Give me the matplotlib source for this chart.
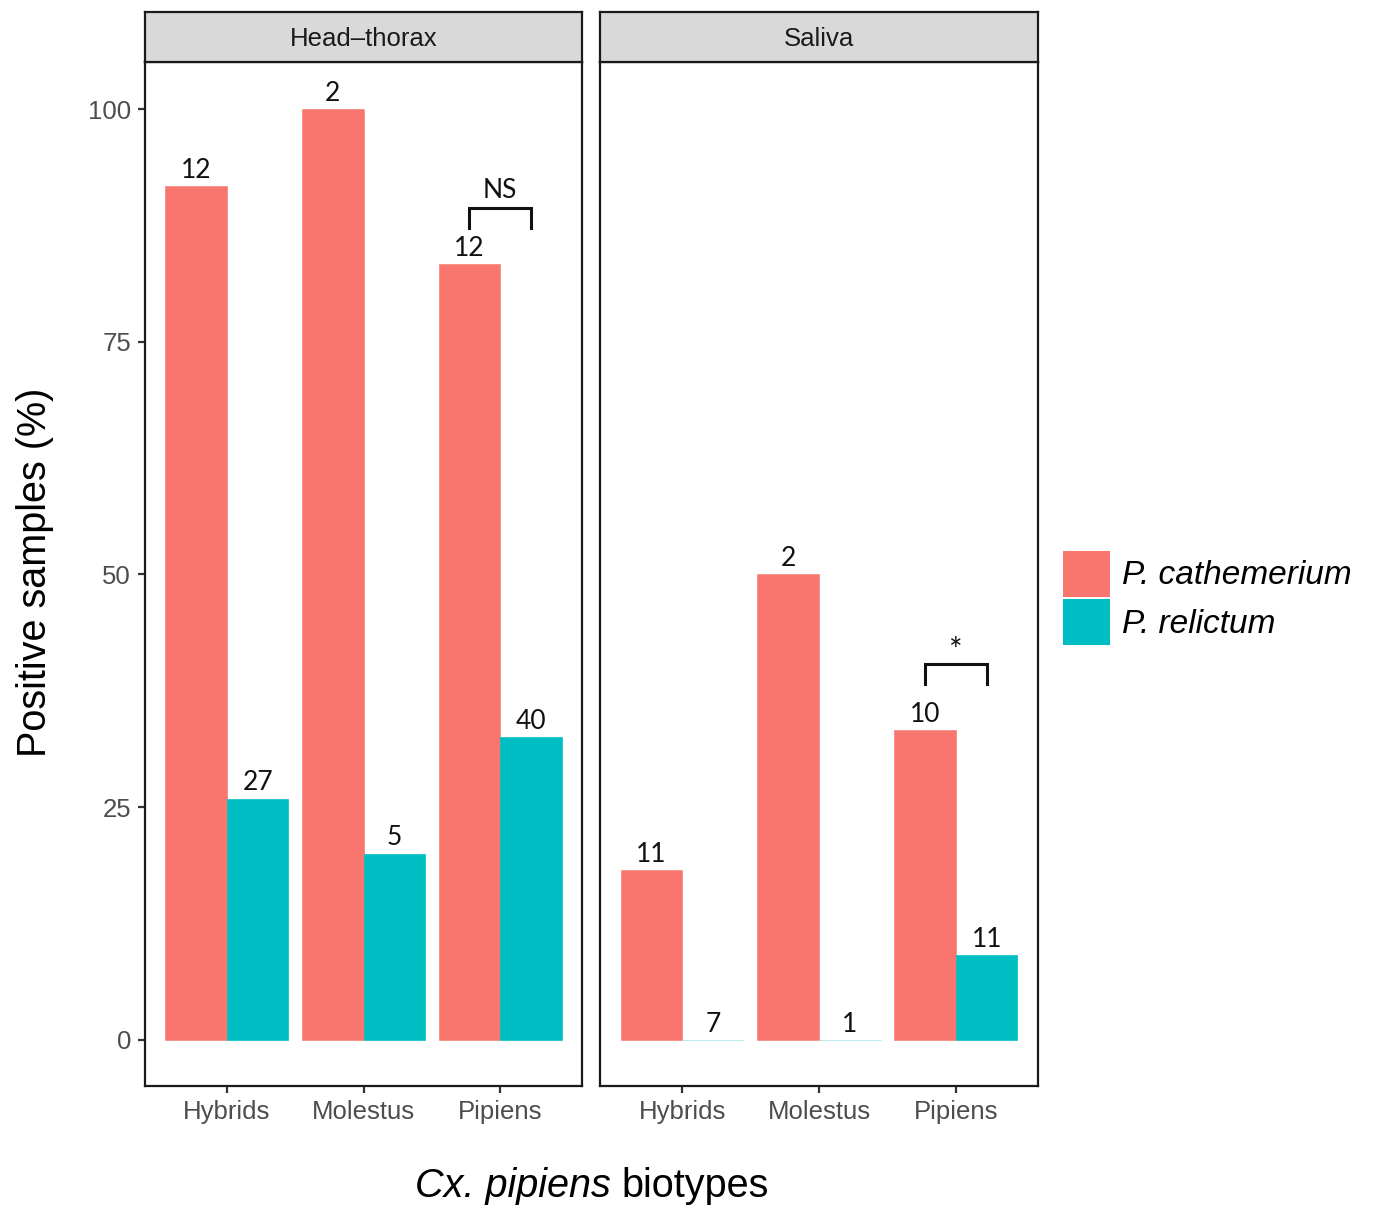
import matplotlib
matplotlib.use('Agg')
import matplotlib.pyplot as plt
from matplotlib.patches import Patch
import numpy as np

plt.rcParams['font.family'] = ['Liberation Sans', 'DejaVu Sans']

# ---------------- data ----------------
panels = ['Head–thorax', 'Saliva']
biotypes = ['Hybrids', 'Molestus', 'Pipiens']
species = ['P. cathemerium', 'P. relictum']
cath_pct = {'Head–thorax': [91.7, 100.0, 83.3], 'Saliva': [18.2, 50.0, 33.3]}
rel_pct = {'Head–thorax': [25.9, 20.0, 32.5], 'Saliva': [0.0, 0.0, 9.1]}
cath_n = {'Head–thorax': [12, 2, 12], 'Saliva': [11, 2, 10]}
rel_n = {'Head–thorax': [27, 5, 40], 'Saliva': [7, 1, 11]}
sig_label = {'Head–thorax': 'NS', 'Saliva': '*'}
sig_group = 'Pipiens'
yticks = [0, 25, 50, 75, 100]
xlabel_italic = 'Cx. pipiens'
xlabel_rest = 'biotypes'
ylabel = 'Positive samples (%)'

# ---------------- style ----------------
W, H = 1377, 1208
col_cath = '#F8766D'
col_rel = '#00BFC4'
col_zero = '#9FE2E4'
edge = '#1a1a1a'
tick_col = '#4D4D4D'
bracket_off = {'Head–thorax': (3.9, 6.1), 'Saliva': (4.9, 7.1)}
sig_size = {'Head–thorax': 19, 'Saliva': 23}
sig_pad = {'Head–thorax': 7, 'Saliva': 2}

fig = plt.figure(figsize=(W / 100, H / 100), dpi=100)

def fx(px):
    return px / W

def fy(py):
    return 1 - py / H

panel_x = [(145, 582), (600, 1038)]
ax_top, ax_bot = 62, 1086
strip_top = 12

bw = 0.45
x = np.arange(1, len(biotypes) + 1)

for i, p in enumerate(panels):
    x0, x1 = panel_x[i]
    ax = fig.add_axes([fx(x0), fy(ax_bot), fx(x1 - x0), (ax_bot - ax_top) / H])
    b1 = ax.bar(x - bw / 2, cath_pct[p], width=bw, color=col_cath,
                edgecolor=col_cath, linewidth=0.4, zorder=2)
    rel_edges = [col_rel if v > 0 else col_zero for v in rel_pct[p]]
    b2 = ax.bar(x + bw / 2, rel_pct[p], width=bw, color=col_rel,
                edgecolor=rel_edges, linewidth=0.5, zorder=2)
    for bars, ns in ((b1, cath_n[p]), (b2, rel_n[p])):
        for b, n in zip(bars, ns):
            ax.annotate(str(n), (b.get_x() + b.get_width() / 2, b.get_height()),
                        xytext=(0, 6), textcoords='offset points',
                        ha='center', va='baseline', fontsize=19,
                        family=['Lato', 'DejaVu Sans'], color='#111111')
    # significance bracket
    gi = biotypes.index(sig_group)
    top = max(cath_pct[p][gi], rel_pct[p][gi])
    lo, hi = top + bracket_off[p][0], top + bracket_off[p][1]
    xa, xb = x[gi] - bw / 2, x[gi] + bw / 2
    ax.plot([xa, xa, xb, xb], [lo, hi, hi, lo], color='#111111', lw=2.2,
            solid_joinstyle='miter', zorder=3)
    ax.annotate(sig_label[p], ((xa + xb) / 2, hi), xytext=(0, sig_pad[p]),
                textcoords='offset points', ha='center', va='baseline',
                fontsize=sig_size[p], family=['Lato', 'DejaVu Sans'],
                color='#111111')

    ax.set_xlim(0.4, 3.6)
    ax.set_ylim(-4.95, 105.05)
    ax.set_xticks(x)
    ax.set_xticklabels(biotypes, fontsize=18.5, color=tick_col)
    ax.set_yticks(yticks)
    if i == 0:
        ax.set_yticklabels([str(t) for t in yticks], fontsize=18.5, color=tick_col)
    else:
        ax.tick_params(axis='y', left=False, labelleft=False)
    ax.tick_params(axis='both', direction='out', length=5, width=1.6,
                   color='#333333', pad=5)
    for s in ax.spines.values():
        s.set_color(edge)
        s.set_linewidth(1.6)

    # strip
    sax = fig.add_axes([fx(x0), fy(ax_top), fx(x1 - x0), (ax_top - strip_top) / H])
    sax.set_facecolor('#D9D9D9')
    sax.set_xticks([])
    sax.set_yticks([])
    for s in sax.spines.values():
        s.set_color(edge)
        s.set_linewidth(1.6)
    sax.text(0.5, 0.46, p, ha='center', va='center', fontsize=18.5,
             color='#1a1a1a', transform=sax.transAxes)

# axis titles
fig.text(fx(35), fy(572), ylabel, rotation=90, ha='center',
         va='center', fontsize=28.5, color='black')

t1 = fig.text(0, fy(1186), xlabel_italic + ' ', ha='left', va='center',
              fontsize=28.5, style='italic', color='black')
t2 = fig.text(0, fy(1186), xlabel_rest, ha='left', va='center',
              fontsize=28.5, color='black')
fig.canvas.draw()
r = fig.canvas.get_renderer()
w1 = t1.get_window_extent(r).width
w2 = t2.get_window_extent(r).width
start = 592 - (w1 + w2) / 2
t1.set_x(fx(start))
t2.set_x(fx(start + w1))

# legend
handles = [Patch(facecolor=col_cath, edgecolor='none'),
           Patch(facecolor=col_rel, edgecolor='none')]
fig.legend(handles, species, loc='center left',
           bbox_to_anchor=(fx(1050), fy(598)), frameon=False,
           prop={'size': 24, 'style': 'italic', 'family': 'Liberation Sans'},
           handlelength=1.4, handleheight=1.75, labelspacing=0.08,
           handletextpad=0.35, borderaxespad=0)

fig.savefig('out.png', dpi=100)
